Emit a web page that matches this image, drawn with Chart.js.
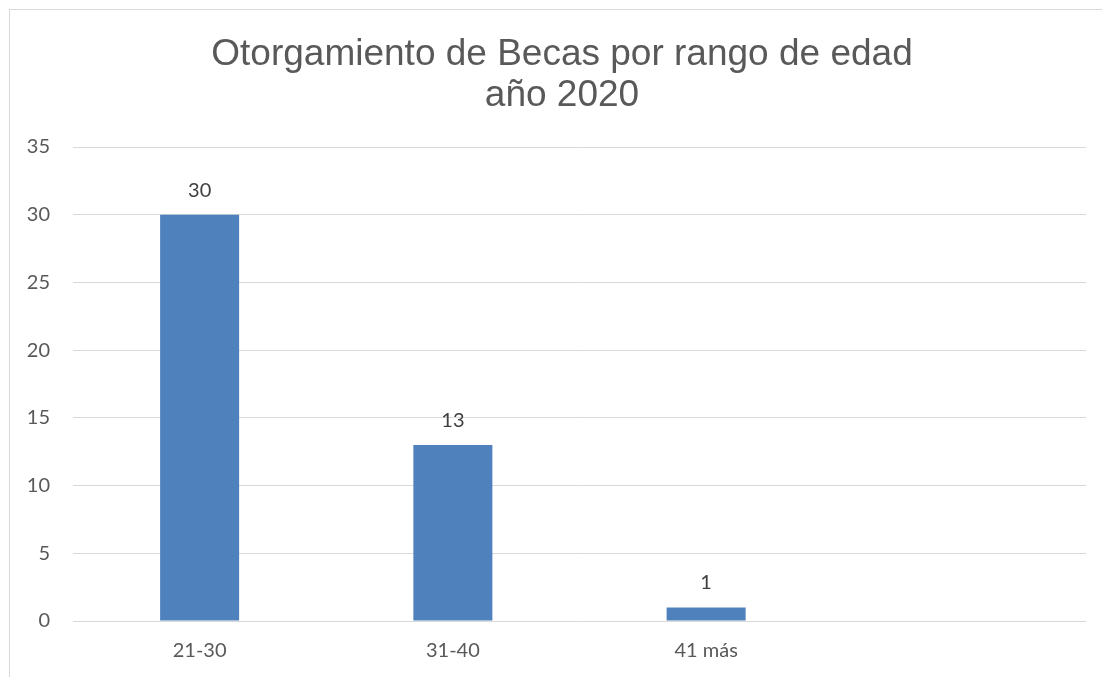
<!DOCTYPE html>
<html>
<head>
<meta charset="utf-8">
<script src="https://cdn.jsdelivr.net/npm/chart.js@4"></script>
<style>
  html, body { margin: 0; padding: 0; background: #fff; overflow: hidden; }
  #wrap { position: relative; width: 1102px; height: 677px; }
  #frame { position: absolute; left: 9px; top: 9px; width: 1200px; height: 800px; border: 1px solid #d9d9d9; pointer-events: none; }
</style>
</head>
<body>
<div id="wrap">
  <canvas id="chart" width="1102" height="677"></canvas>
  <div id="frame"></div>
</div>
<script>
var categories = ["21-30", "31-40", "41 más", ""];
var becas = [30, 13, 1, null];
var yTicks = [0, 5, 10, 15, 20, 25, 30, 35];
var titleLines = ["Otorgamiento de Becas por rango de edad", "año 2020"];

document.addEventListener("DOMContentLoaded", function () {
  var ctx = document.getElementById("chart");
  var labelFont = { family: "Lato, 'Noto Sans', sans-serif", size: 20 };

  // titulo centrado como en excel (no sobre todo el canvas)
  var chartTitle = {
    id: "chartTitle",
    afterDraw: function (chart) {
      var c = chart.ctx;
      c.save();
      c.font = "37px 'Liberation Sans', Arial, sans-serif";
      c.fillStyle = "#595959";
      c.textAlign = "center";
      c.textBaseline = "alphabetic";
      c.fillText(titleLines[0], 562, 65);
      c.fillText(titleLines[1], 562, 106);
      c.restore();
    }
  };

  // etiquetas de valor encima de cada barra
  var valueLabels = {
    id: "valueLabels",
    afterDatasetsDraw: function (chart) {
      var c = chart.ctx;
      var meta = chart.getDatasetMeta(0);
      c.save();
      c.font = "20px Lato, 'Noto Sans', sans-serif";
      c.fillStyle = "#404040";
      c.textAlign = "center";
      c.textBaseline = "alphabetic";
      meta.data.forEach(function (bar, i) {
        if (becas[i] === null) return;
        c.fillText(String(becas[i]), bar.x, bar.y - 18);
      });
      c.restore();
    }
  };

  new Chart(ctx, {
    type: "bar",
    data: {
      labels: categories,
      datasets: [{
        label: "Becas",
        data: becas,
        backgroundColor: "#4f81bd",
        borderWidth: 0,
        categoryPercentage: 1,
        barPercentage: 0.312
      }]
    },
    options: {
      responsive: false,
      animation: false,
      layout: { padding: { top: 147, right: 16, bottom: 0, left: 0 } },
      plugins: {
        legend: { display: false },
        tooltip: { enabled: false },
        title: { display: false }
      },
      scales: {
        x: {
          grid: { display: false, drawTicks: false },
          border: { display: false },
          ticks: { color: "#595959", font: labelFont, padding: 18 },
          afterFit: function (scale) { scale.height = 56; }
        },
        y: {
          min: 0,
          max: 35,
          afterBuildTicks: function (scale) {
            scale.ticks = yTicks.map(function (v) { return { value: v }; });
          },
          grid: { color: "#d9d9d9", lineWidth: 1, drawTicks: false },
          border: { display: false },
          ticks: { color: "#595959", font: labelFont, padding: 23 },
          afterFit: function (scale) { scale.width = 73; }
        }
      }
    },
    plugins: [valueLabels, chartTitle]
  });
});
</script>
</body>
</html>
